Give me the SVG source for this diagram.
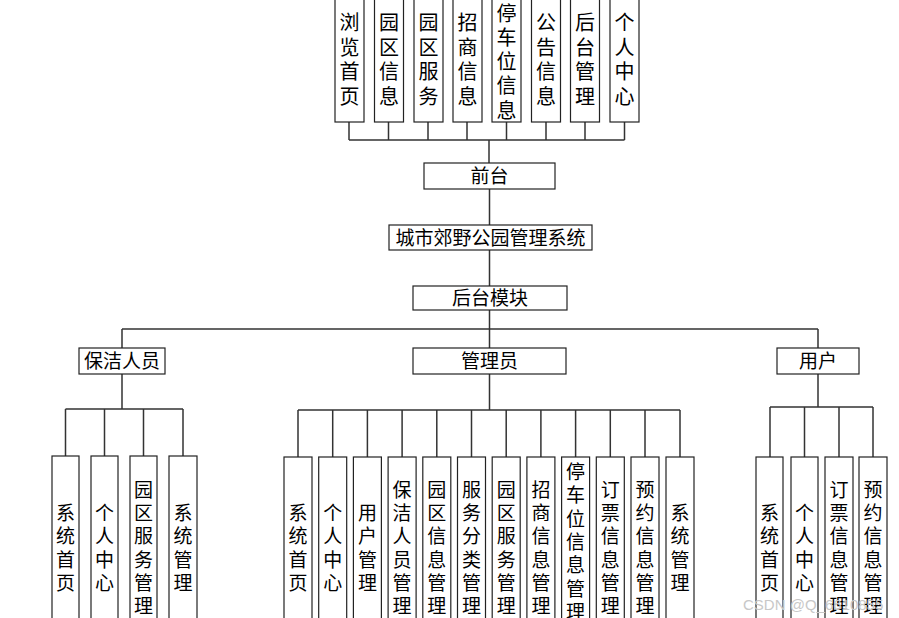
<svg xmlns="http://www.w3.org/2000/svg" width="899" height="618" viewBox="0 0 899 618">
<style>
.b{fill:#fff;stroke:#222;stroke-width:1.2}
.t{font-family:"Noto Sans CJK SC","Noto Sans CJK JP",sans-serif;font-size:19px;fill:#000;text-anchor:middle}
.tt{font-family:"Noto Sans CJK SC","Noto Sans CJK JP",sans-serif;font-size:20px;fill:#000;text-anchor:middle}
.c{fill:none;stroke:#333;stroke-width:1.5}
.wm{font-family:"Liberation Sans",Arial,sans-serif;font-size:15px;fill:#c8c8c8}
</style>
<rect width="899" height="618" fill="#fff"/>
<g id="connectors">
<path class="c" d="M349,122V140M388.5,122V140M428,122V140M467,122V140M506.5,122V140M546,122V140M585,122V140M624.5,122V140M349,140H624.5M489,140V163"/>
<path class="c" d="M489.5,189V225M489.5,250V286M489.5,310V329M122,329H818M122,329V348M489.5,329V348M818,329V348"/>
<path class="c" d="M122,374V409M65.5,409H183M65.5,409V456M104.5,409V456M143.5,409V456M183,409V456"/>
<path class="c" d="M489.5,374V410M298,410H680M298,410V457M332.7,410V457M367.4,410V457M402.1,410V457M436.8,410V457M471.5,410V457M506.2,410V457M540.9,410V457M575.6,410V457M610.3,410V457M645,410V457M680,410V457"/>
<path class="c" d="M818,374V407M770,407H873M770,407V457M804.5,407V457M839,407V457M873,407V457"/>
</g>
<g id="n_browse"><rect class="b" x="335" y="-2" width="29" height="124"/><text class="tt"><tspan x="349.5" y="30">浏</tspan><tspan x="349.5" y="54.5">览</tspan><tspan x="349.5" y="79">首</tspan><tspan x="349.5" y="103.5">页</tspan></text></g>
<g id="n_parkinfo"><rect class="b" x="374.5" y="-2" width="29" height="124"/><text class="tt"><tspan x="389" y="30">园</tspan><tspan x="389" y="54.5">区</tspan><tspan x="389" y="79">信</tspan><tspan x="389" y="103.5">息</tspan></text></g>
<g id="n_parkservice"><rect class="b" x="414" y="-2" width="29" height="124"/><text class="tt"><tspan x="428.5" y="30">园</tspan><tspan x="428.5" y="54.5">区</tspan><tspan x="428.5" y="79">服</tspan><tspan x="428.5" y="103.5">务</tspan></text></g>
<g id="n_invest"><rect class="b" x="453" y="-2" width="29" height="124"/><text class="tt"><tspan x="467.5" y="30">招</tspan><tspan x="467.5" y="54.5">商</tspan><tspan x="467.5" y="79">信</tspan><tspan x="467.5" y="103.5">息</tspan></text></g>
<g id="n_parking"><rect class="b" x="492" y="-2" width="29" height="124"/><text class="tt"><tspan x="506.5" y="20.5">停</tspan><tspan x="506.5" y="44.8">车</tspan><tspan x="506.5" y="69">位</tspan><tspan x="506.5" y="93.3">信</tspan><tspan x="506.5" y="117.5">息</tspan></text></g>
<g id="n_notice"><rect class="b" x="531.5" y="-2" width="29" height="124"/><text class="tt"><tspan x="546" y="30">公</tspan><tspan x="546" y="54.5">告</tspan><tspan x="546" y="79">信</tspan><tspan x="546" y="103.5">息</tspan></text></g>
<g id="n_backend"><rect class="b" x="570.5" y="-2" width="29" height="124"/><text class="tt"><tspan x="585" y="30">后</tspan><tspan x="585" y="54.5">台</tspan><tspan x="585" y="79">管</tspan><tspan x="585" y="103.5">理</tspan></text></g>
<g id="n_personal"><rect class="b" x="610" y="-2" width="29" height="124"/><text class="tt"><tspan x="624.5" y="30">个</tspan><tspan x="624.5" y="54.5">人</tspan><tspan x="624.5" y="79">中</tspan><tspan x="624.5" y="103.5">心</tspan></text></g>
<g id="n_front"><rect class="b" x="424" y="163" width="131" height="26"/><text class="t" x="489.5" y="183">前台</text></g>
<g id="n_system"><rect class="b" x="389" y="225" width="203" height="25"/><text class="t" x="490.5" y="244.5">城市郊野公园管理系统</text></g>
<g id="n_backmod"><rect class="b" x="413" y="286" width="154" height="24"/><text class="t" x="490" y="305">后台模块</text></g>
<g id="n_cleaner"><rect class="b" x="79" y="348" width="86" height="26"/><text class="t" x="122" y="368">保洁人员</text></g>
<g id="n_admin"><rect class="b" x="413" y="348" width="153" height="26"/><text class="t" x="489.5" y="368">管理员</text></g>
<g id="n_user"><rect class="b" x="777" y="348" width="82" height="26"/><text class="t" x="818" y="368">用户</text></g>
<g id="c_home"><rect class="b" x="52" y="456" width="27" height="190"/><text class="t"><tspan x="65.5" y="520">系</tspan><tspan x="65.5" y="543.3">统</tspan><tspan x="65.5" y="566.6">首</tspan><tspan x="65.5" y="590">页</tspan></text></g>
<g id="c_personal"><rect class="b" x="91" y="456" width="27" height="190"/><text class="t"><tspan x="104.5" y="520">个</tspan><tspan x="104.5" y="543.3">人</tspan><tspan x="104.5" y="566.6">中</tspan><tspan x="104.5" y="590">心</tspan></text></g>
<g id="c_service"><rect class="b" x="130" y="456" width="27" height="190"/><text class="t"><tspan x="143.5" y="496.7">园</tspan><tspan x="143.5" y="520">区</tspan><tspan x="143.5" y="543.3">服</tspan><tspan x="143.5" y="566.6">务</tspan><tspan x="143.5" y="590">管</tspan><tspan x="143.5" y="613.3">理</tspan></text></g>
<g id="c_sys"><rect class="b" x="169" y="456" width="28" height="190"/><text class="t"><tspan x="183" y="520">系</tspan><tspan x="183" y="543.3">统</tspan><tspan x="183" y="566.6">管</tspan><tspan x="183" y="590">理</tspan></text></g>
<g id="a_home"><rect class="b" x="284" y="457" width="28" height="190"/><text class="t"><tspan x="298" y="520">系</tspan><tspan x="298" y="543.3">统</tspan><tspan x="298" y="566.6">首</tspan><tspan x="298" y="590">页</tspan></text></g>
<g id="a_personal"><rect class="b" x="318.7" y="457" width="28" height="190"/><text class="t"><tspan x="332.7" y="520">个</tspan><tspan x="332.7" y="543.3">人</tspan><tspan x="332.7" y="566.6">中</tspan><tspan x="332.7" y="590">心</tspan></text></g>
<g id="a_user"><rect class="b" x="353.4" y="457" width="28" height="190"/><text class="t"><tspan x="367.4" y="520">用</tspan><tspan x="367.4" y="543.3">户</tspan><tspan x="367.4" y="566.6">管</tspan><tspan x="367.4" y="590">理</tspan></text></g>
<g id="a_cleaner"><rect class="b" x="388.1" y="457" width="28" height="190"/><text class="t"><tspan x="402.1" y="496.7">保</tspan><tspan x="402.1" y="520">洁</tspan><tspan x="402.1" y="543.3">人</tspan><tspan x="402.1" y="566.6">员</tspan><tspan x="402.1" y="590">管</tspan><tspan x="402.1" y="613.3">理</tspan></text></g>
<g id="a_parkinfo"><rect class="b" x="422.8" y="457" width="28" height="190"/><text class="t"><tspan x="436.8" y="496.7">园</tspan><tspan x="436.8" y="520">区</tspan><tspan x="436.8" y="543.3">信</tspan><tspan x="436.8" y="566.6">息</tspan><tspan x="436.8" y="590">管</tspan><tspan x="436.8" y="613.3">理</tspan></text></g>
<g id="a_category"><rect class="b" x="457.5" y="457" width="28" height="190"/><text class="t"><tspan x="471.5" y="496.7">服</tspan><tspan x="471.5" y="520">务</tspan><tspan x="471.5" y="543.3">分</tspan><tspan x="471.5" y="566.6">类</tspan><tspan x="471.5" y="590">管</tspan><tspan x="471.5" y="613.3">理</tspan></text></g>
<g id="a_service"><rect class="b" x="492.2" y="457" width="28" height="190"/><text class="t"><tspan x="506.2" y="496.7">园</tspan><tspan x="506.2" y="520">区</tspan><tspan x="506.2" y="543.3">服</tspan><tspan x="506.2" y="566.6">务</tspan><tspan x="506.2" y="590">管</tspan><tspan x="506.2" y="613.3">理</tspan></text></g>
<g id="a_invest"><rect class="b" x="526.9" y="457" width="28" height="190"/><text class="t"><tspan x="540.9" y="496.7">招</tspan><tspan x="540.9" y="520">商</tspan><tspan x="540.9" y="543.3">信</tspan><tspan x="540.9" y="566.6">息</tspan><tspan x="540.9" y="590">管</tspan><tspan x="540.9" y="613.3">理</tspan></text></g>
<g id="a_parking"><rect class="b" x="561.6" y="457" width="28" height="190"/><text class="t"><tspan x="575.6" y="479">停</tspan><tspan x="575.6" y="502.3">车</tspan><tspan x="575.6" y="525.6">位</tspan><tspan x="575.6" y="549">信</tspan><tspan x="575.6" y="572.3">息</tspan><tspan x="575.6" y="595.6">管</tspan><tspan x="575.6" y="619">理</tspan></text></g>
<g id="a_ticket"><rect class="b" x="596.3" y="457" width="28" height="190"/><text class="t"><tspan x="610.3" y="496.7">订</tspan><tspan x="610.3" y="520">票</tspan><tspan x="610.3" y="543.3">信</tspan><tspan x="610.3" y="566.6">息</tspan><tspan x="610.3" y="590">管</tspan><tspan x="610.3" y="613.3">理</tspan></text></g>
<g id="a_booking"><rect class="b" x="631" y="457" width="28" height="190"/><text class="t"><tspan x="645" y="496.7">预</tspan><tspan x="645" y="520">约</tspan><tspan x="645" y="543.3">信</tspan><tspan x="645" y="566.6">息</tspan><tspan x="645" y="590">管</tspan><tspan x="645" y="613.3">理</tspan></text></g>
<g id="a_sys"><rect class="b" x="666" y="457" width="28" height="190"/><text class="t"><tspan x="680" y="520">系</tspan><tspan x="680" y="543.3">统</tspan><tspan x="680" y="566.6">管</tspan><tspan x="680" y="590">理</tspan></text></g>
<g id="u_home"><rect class="b" x="756" y="457" width="27" height="190"/><text class="t"><tspan x="769.5" y="520">系</tspan><tspan x="769.5" y="543.3">统</tspan><tspan x="769.5" y="566.6">首</tspan><tspan x="769.5" y="590">页</tspan></text></g>
<g id="u_personal"><rect class="b" x="791" y="457" width="27" height="190"/><text class="t"><tspan x="804.5" y="520">个</tspan><tspan x="804.5" y="543.3">人</tspan><tspan x="804.5" y="566.6">中</tspan><tspan x="804.5" y="590">心</tspan></text></g>
<g id="u_ticket"><rect class="b" x="825" y="457" width="28" height="190"/><text class="t"><tspan x="839" y="496.7">订</tspan><tspan x="839" y="520">票</tspan><tspan x="839" y="543.3">信</tspan><tspan x="839" y="566.6">息</tspan><tspan x="839" y="590">管</tspan><tspan x="839" y="613.3">理</tspan></text></g>
<g id="u_booking"><rect class="b" x="859" y="457" width="28" height="190"/><text class="t"><tspan x="873" y="496.7">预</tspan><tspan x="873" y="520">约</tspan><tspan x="873" y="543.3">信</tspan><tspan x="873" y="566.6">息</tspan><tspan x="873" y="590">管</tspan><tspan x="873" y="613.3">理</tspan></text></g>
<text class="wm" x="743" y="610">CSDN @Q_6610855</text>
</svg>
